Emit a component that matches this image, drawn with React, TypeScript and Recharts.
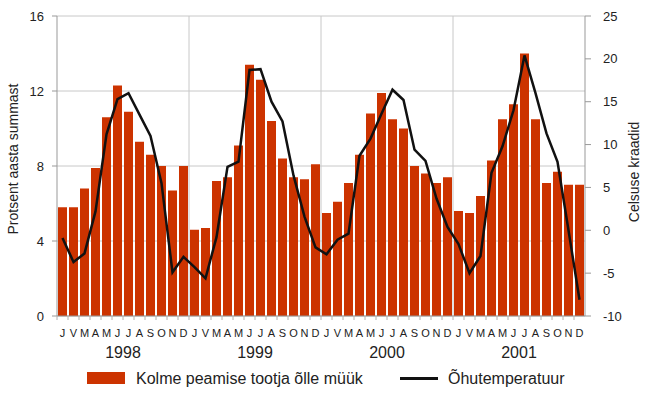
import {
  ComposedChart,
  Bar,
  Line,
  XAxis,
  YAxis,
  CartesianGrid,
  ReferenceLine,
  Legend,
} from "recharts";

const months = ["J", "V", "M", "A", "M", "J", "J", "A", "S", "O", "N", "D"];
const years = ["1998", "1999", "2000", "2001"];

// beer sales, % of the yearly total
const sales1998 = [5.8, 5.8, 6.8, 7.9, 10.6, 12.3, 10.9, 9.3, 8.6, 8.0, 6.7, 8.0];
const sales1999 = [4.6, 4.7, 7.2, 7.4, 9.1, 13.4, 12.6, 10.4, 8.4, 7.4, 7.3, 8.1];
const sales2000 = [5.5, 6.1, 7.1, 8.6, 10.8, 11.9, 10.5, 10.0, 8.0, 7.6, 7.1, 7.4];
const sales2001 = [5.6, 5.5, 6.4, 8.3, 10.5, 11.3, 14.0, 10.5, 7.1, 7.7, 7.0, 7.0];

// air temperature, °C
const temp1998 = [-0.9, -3.7, -2.7, 2.2, 11.2, 15.3, 16.0, 13.5, 11.0, 5.5, -4.9, -3.1];
const temp1999 = [-4.3, -5.6, -0.8, 7.4, 8.0, 18.7, 18.8, 15.0, 12.7, 6.4, 1.6, -2.0];
const temp2000 = [-2.8, -1.1, -0.4, 8.7, 10.7, 13.6, 16.4, 15.2, 9.4, 8.1, 3.7, 0.4];
const temp2001 = [-1.6, -5.0, -3.0, 6.7, 9.8, 14.0, 20.4, 16.0, 11.3, 8.0, 0.0, -8.1];

const pctTicks = [0, 4, 8, 12, 16];
const tempTicks = [-10, -5, 0, 5, 10, 15, 20, 25];

const sales = [sales1998, sales1999, sales2000, sales2001];
const temps = [temp1998, temp1999, temp2000, temp2001];

const data = years.flatMap((yr, yi) =>
  months.map((m, mi) => ({
    key: `${yr}-${mi + 1}`,
    month: m,
    monthIdx: mi,
    year: yr,
    sales: sales[yi][mi],
    temp: temps[yi][mi],
  }))
);

const FONT = "'Liberation Sans', Arial, Helvetica, sans-serif";
const BAR = "#cc3300";

const MonthTick = (props: any) => {
  const { x, y, payload } = props;
  const row = data[payload.index];
  const half = payload.offset ?? 5.5;
  return (
    <g>
      <line x1={x - half} x2={x - half} y1={y} y2={y + 4} stroke="#b0b0b0" />
      <text x={x} y={y + 21} textAnchor="middle" fontSize={11} fill="#222" fontFamily={FONT}>
        {row ? row.month : ""}
      </text>
    </g>
  );
};

const YearTick = (props: any) => {
  const { x, y, payload } = props;
  const row = data[payload.index];
  if (!row || row.monthIdx !== 5) return <g />;
  const half = payload.offset ?? 5.5;
  return (
    <text x={x + half} y={y + 20} textAnchor="middle" fontSize={16} fill="#222" fontFamily={FONT}>
      {row.year}
    </text>
  );
};

const LegendContent = () => (
  <div style={{ position: "relative", height: 29, width: 650, fontFamily: FONT, color: "#222" }}>
    <div style={{ position: "absolute", left: 87, top: 8, width: 38, height: 12, background: BAR }} />
    <span style={{ position: "absolute", left: 136, top: 0, lineHeight: "29px", fontSize: 16, whiteSpace: "nowrap" }}>
      Kolme peamise tootja õlle müük
    </span>
    <div style={{ position: "absolute", left: 400, top: 13, width: 38, height: 3, background: "#111" }} />
    <span style={{ position: "absolute", left: 448, top: 0, lineHeight: "29px", fontSize: 16, whiteSpace: "nowrap" }}>
      Õhutemperatuur
    </span>
  </div>
);

export default function App() {
  return (
    <div style={{ position: "absolute", left: 0, top: 0, width: 650, height: 393, background: "#fff" }}>
      <ComposedChart
        width={650}
        height={393}
        data={data}
        margin={{ top: 16, right: 0, bottom: 0, left: 0 }}
        barCategoryGap={1}
      >
        <CartesianGrid xAxisId="cat" yAxisId="pct" vertical={false} stroke="#c8c8c8" />
        {years.slice(1).map((yr) => (
          <ReferenceLine
            key={yr}
            xAxisId="cat"
            yAxisId="pct"
            x={`${yr}-1`}
            position="start"
            stroke="#c8c8c8"
          />
        ))}
        <XAxis
          xAxisId="cat"
          dataKey="key"
          interval={0}
          height={22}
          tickLine={false}
          tickSize={0}
          tickMargin={0}
          axisLine={{ stroke: "#999" }}
          tick={<MonthTick />}
        />
        <XAxis
          xAxisId="year"
          dataKey="key"
          interval={0}
          height={26}
          tickLine={false}
          tickSize={0}
          tickMargin={0}
          axisLine={false}
          tick={<YearTick />}
        />
        <YAxis
          yAxisId="pct"
          domain={[0, 16]}
          ticks={pctTicks}
          width={57}
          tickSize={5}
          tickMargin={8}
          axisLine={{ stroke: "#999" }}
          tickLine={{ stroke: "#999" }}
          tick={{ fontSize: 13, fill: "#222", fontFamily: FONT }}
          label={{
            content: (p: any) => {
              const vb = p.viewBox || { x: 0, y: 16, height: 300 };
              const cx = vb.x + 13;
              const cy = vb.y + vb.height / 2 - 7;
              return (
                <text
                  x={cx}
                  y={cy}
                  transform={`rotate(-90 ${cx} ${cy})`}
                  textAnchor="middle"
                  dominantBaseline="central"
                  fontSize={14}
                  fill="#222"
                  fontFamily={FONT}
                >
                  Protsent aasta summast
                </text>
              );
            },
          }}
        />
        <YAxis
          yAxisId="temp"
          orientation="right"
          domain={[-10, 25]}
          ticks={tempTicks}
          width={65}
          tickSize={6}
          tickMargin={12}
          axisLine={{ stroke: "#999" }}
          tickLine={{ stroke: "#999" }}
          tick={{ fontSize: 13, fill: "#222", fontFamily: FONT }}
          label={{
            content: (p: any) => {
              const vb = p.viewBox || { x: 585, y: 16, height: 300 };
              const cx = vb.x + 49;
              const cy = vb.y + vb.height / 2 + 6;
              return (
                <text
                  x={cx}
                  y={cy}
                  transform={`rotate(-90 ${cx} ${cy})`}
                  textAnchor="middle"
                  dominantBaseline="central"
                  fontSize={14}
                  fill="#222"
                  fontFamily={FONT}
                >
                  Celsuse kraadid
                </text>
              );
            },
          }}
        />
        <Bar
          xAxisId="cat"
          yAxisId="pct"
          dataKey="sales"
          name="Kolme peamise tootja õlle müük"
          fill={BAR}
          isAnimationActive={false}
        />
        <Line
          xAxisId="cat"
          yAxisId="temp"
          dataKey="temp"
          name="Õhutemperatuur"
          type="linear"
          stroke="#111"
          strokeWidth={2.5}
          dot={false}
          activeDot={false}
          isAnimationActive={false}
        />
        <Legend
          verticalAlign="bottom"
          content={<LegendContent />}
          wrapperStyle={{ left: 0, bottom: 0, width: 650, height: 29 }}
        />
      </ComposedChart>
    </div>
  );
}
